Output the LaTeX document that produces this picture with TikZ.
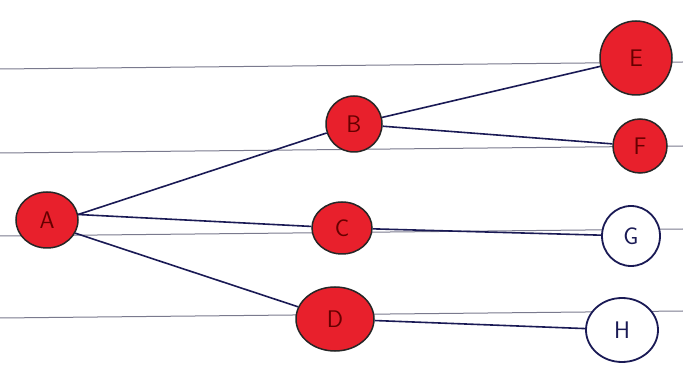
\documentclass[tikz,border=0pt]{standalone}
\usetikzlibrary{shapes.geometric}
\definecolor{ink}{HTML}{1A1A55}
\definecolor{redfill}{HTML}{E8202C}
\definecolor{rule}{HTML}{7A7A8E}
\tikzset{
  rednode/.style={ellipse, draw=black!85, line width=1.5pt, fill=redfill, inner sep=0pt,
    text=black!60!red, font=\sffamily\fontsize{24}{24}\selectfont},
  whitenode/.style={ellipse, draw=ink, line width=1.8pt, fill=white, inner sep=0pt,
    text=ink, font=\sffamily\fontsize{24}{24}\selectfont},
  edge/.style={draw=ink, line width=1.6pt},
  ruled/.style={draw=rule, line width=1pt}
}
\begin{document}
\begin{tikzpicture}[x=1pt,y=-1pt]
\useasboundingbox (0,0) rectangle (683,371);
\fill[white] (0,0) rectangle (683,371);
% ruled lines
\draw[ruled] (0,69) -- (683,62);
\draw[ruled] (0,153) -- (683,146);
\draw[ruled] (0,236) -- (683,229);
\draw[ruled] (0,318) -- (683,311);
% nodes
\node[rednode, minimum width=62pt, minimum height=56pt] (A) at (47,220) {A};
\node[rednode, minimum width=56pt, minimum height=56pt] (B) at (354,124) {B};
\node[rednode, minimum width=60pt, minimum height=52pt] (C) at (342,228) {C};
\node[rednode, minimum width=78pt, minimum height=64pt] (D) at (335,319) {D};
\node[rednode, minimum width=72pt, minimum height=74pt] (E) at (636,58) {E};
\node[rednode, minimum width=54pt, minimum height=54pt] (F) at (640,146) {F};
\node[whitenode, minimum width=58pt, minimum height=60pt] (G) at (631,236) {G};
\node[whitenode, minimum width=72pt, minimum height=64pt] (H) at (622,330) {H};
% edges
\draw[edge] (A.10) -- (B);
\draw[edge] (A.10) -- (C);
\draw[edge] (A.-25) -- (D);
\draw[edge] (B) -- (E);
\draw[edge] (B) -- (F);
\draw[edge] (C) -- (G);
\draw[edge] (D) -- (H);
\end{tikzpicture}
\end{document}
